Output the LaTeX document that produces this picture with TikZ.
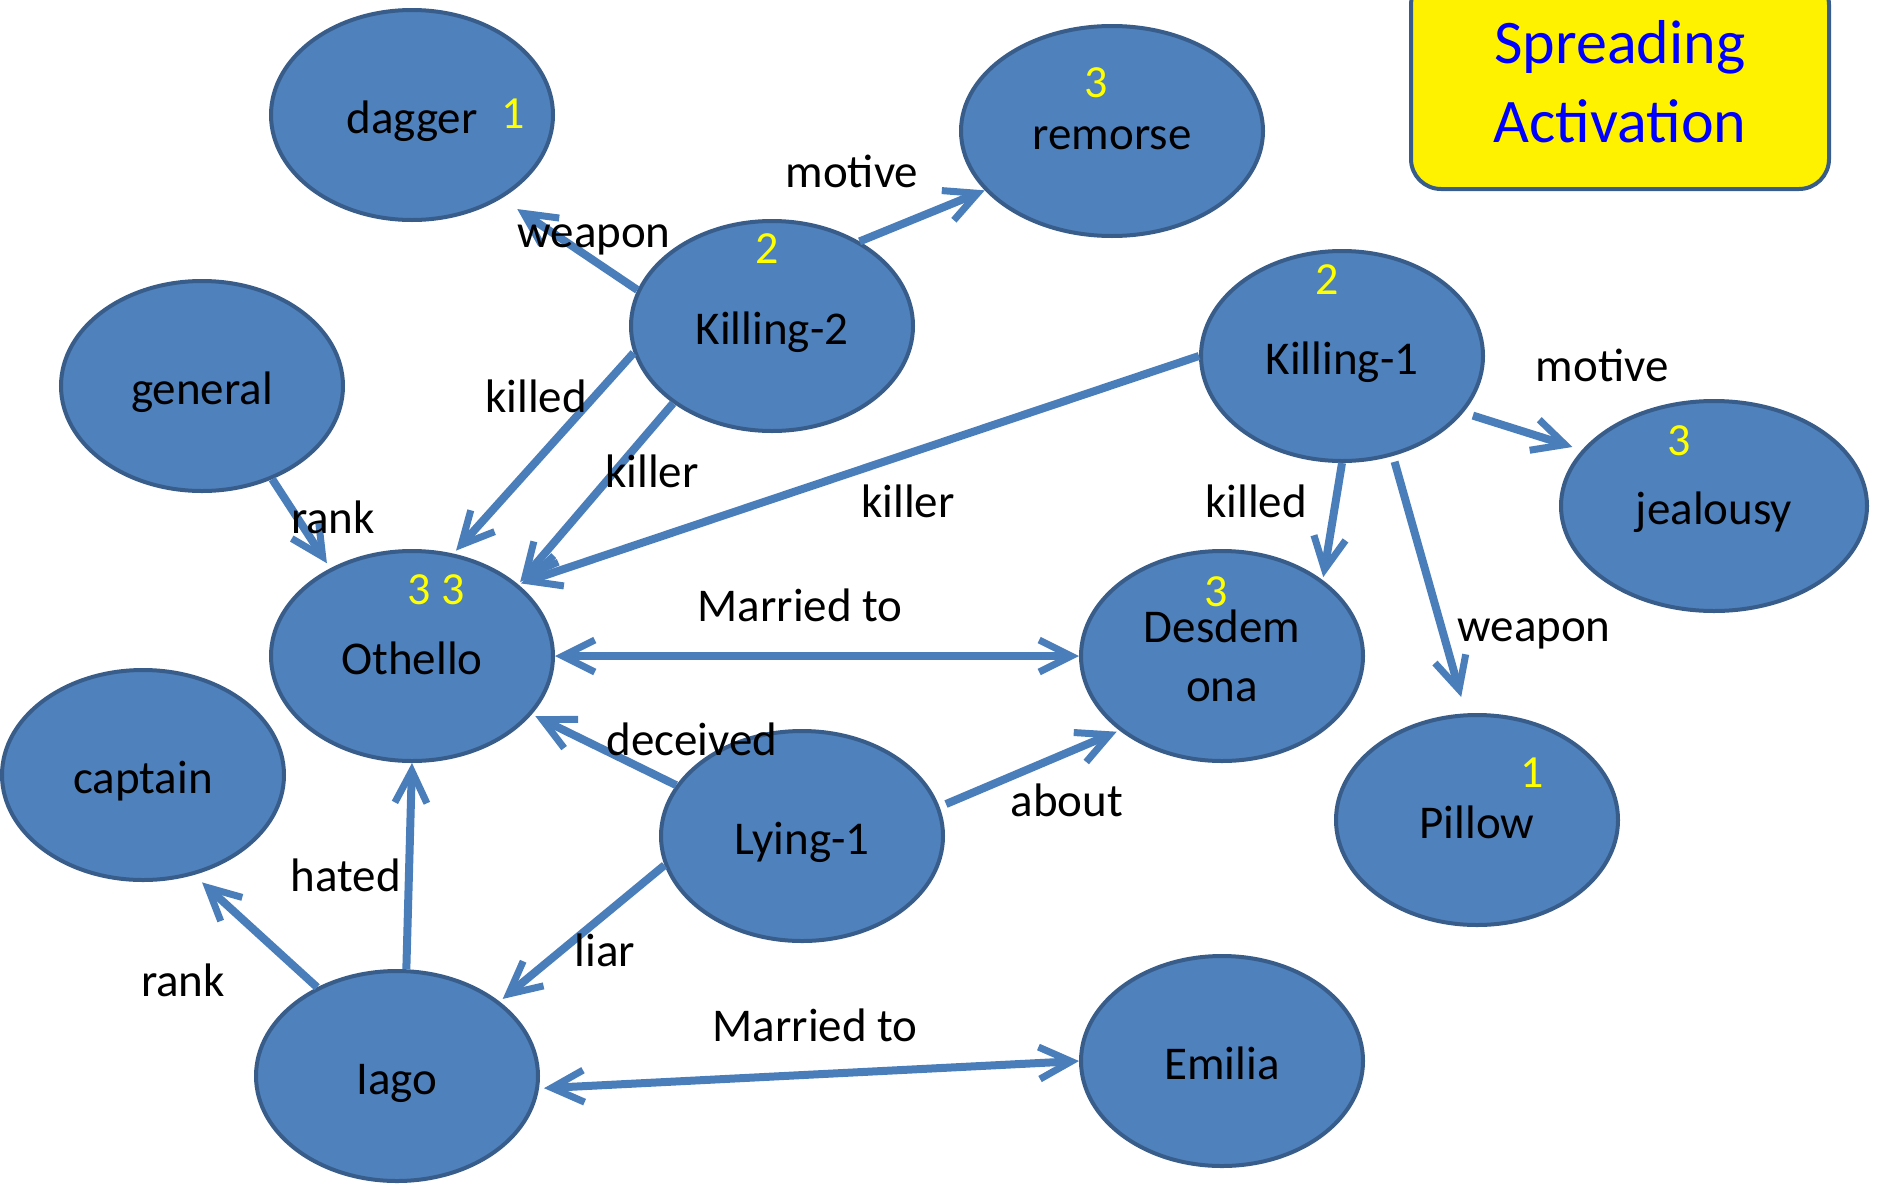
\documentclass[tikz,border=0pt]{standalone}
\usepackage{fontspec}
\setmainfont{Carlito}
\usetikzlibrary{arrows.meta,shapes.geometric}
\definecolor{nodefill}{HTML}{4F81BD}
\definecolor{nodeline}{HTML}{385D8A}
\definecolor{arrowc}{HTML}{4A7EBB}
\definecolor{numc}{HTML}{FFFF00}
\definecolor{titlec}{HTML}{0000FF}
\tikzset{
  concept/.style={ellipse, draw=nodeline, fill=nodefill, line width=4pt,
    minimum width=282pt, minimum height=210pt, inner sep=0pt,
    font=\fontsize{47}{59}\selectfont},
  oneline/.style={text height=41pt, text depth=4pt},
  num/.style={font=\fontsize{46}{55}\selectfont, text=numc, inner sep=0pt},
  lbl/.style={font=\fontsize{47}{56}\selectfont, anchor=base, inner sep=0pt},
  tip/.style={},
  link/.style={draw=arrowc, line width=8pt,
    -{Straight Barb[length=32pt,width=32pt,line width=7pt]}},
  link2/.style={draw=arrowc, line width=8pt,
    {Straight Barb[length=32pt,width=32pt,line width=7pt]}-{Straight Barb[length=32pt,width=32pt,line width=7pt]}},
  titlebox/.style={draw=nodeline, fill=yellow, line width=4pt, rounded corners=30pt,
    minimum width=418pt, minimum height=214pt, inner sep=0pt, align=center,
    text=titlec, font=\fontsize{62}{78.6}\selectfont}
}
\begin{document}
\begin{tikzpicture}[x=1pt,y=-1pt]
\useasboundingbox (0,0) rectangle (1878,1183);

% title
\node[titlebox] (title) at (1620,82) {Spreading\\Activation};

% concept nodes
\node[concept, oneline] (dagger) at (412,115) {dagger};
\node[concept, oneline, minimum width=302pt] (remorse) at (1112,131) {remorse};
\node[concept, oneline] (kb) at (772,326) {Killing-2};
\node[concept, oneline] (general) at (202,386) {general};
\node[concept, oneline] (ka) at (1342,356) {Killing-1};
\node[concept, oneline, minimum width=306pt] (jeal) at (1714,506) {jealousy};
\node[concept, oneline] (oth) at (412,656) {Othello};
\node[concept, align=center] (des) at (1222,656) {\raisebox{-3pt}{Desdem}\\\raisebox{-3pt}{ona}};
\node[concept, oneline] (capt) at (143,775) {captain};
\node[concept, oneline] (lying) at (802,836) {Lying-1};
\node[concept, oneline] (pillow) at (1477,820) {Pillow};
\node[concept, oneline] (iago) at (397,1076) {Iago};
\node[concept, oneline] (emilia) at (1222,1061) {Emilia};

% activation numbers
\node[num] (n1) at (513,114) {1};
\node[num] (n2) at (1096,83) {3};
\node[num] (n3) at (767,249) {2};
\node[num] (n4) at (1327,280) {2};
\node[num] (n5) at (1679,441) {3};
\node[num] (n6) at (436,590) {3 3};
\node[num] (n7) at (1216,592) {3};
\node[num] (n8) at (1532,773) {1};

% connectors
\draw[link, shorten >=19pt] (kb.165) -- (dagger.-43);
\draw[link] (kb.44) -- (remorse.205);
\draw[link, shorten >=4pt] (kb.191) -- (oth.68);
\draw[link, shorten >=3pt] (kb.218) -- (oth.34);
\draw[link, shorten >=3pt] (ka.180) -- (oth.34);
\draw[link, shorten >=6pt] (general.-53) -- (oth.133);
\draw[link, shorten <=10pt, shorten >=10pt] (ka.-25) -- (jeal.157);
\draw[link, shorten >=3pt] (ka.-90) -- (des.37);
\draw[link, shorten <=6pt, shorten >=17pt] (ka.-63) -- (pillow.96);
\draw[link2] (oth.east) -- (des.west);
\draw[link, shorten >=4pt] (lying.158) -- (oth.-26);
\draw[link, shorten <=7pt, shorten >=3pt] (lying.12) -- (des.216);
\draw[link, shorten >=4pt] (lying.192) -- (iago.36);
\draw[link] (iago.85) -- (oth.south);
\draw[link, shorten >=11pt] (iago.132) -- (capt.-63);
\draw[link2, shorten >=5pt] (emilia.west) -- (iago.-5);

% connector labels
\node[lbl] (e1) at (852,187) {motive};
\node[lbl] (e2) at (594,247) {weapon};
\node[lbl] (e3) at (536,412) {killed};
\node[lbl] (e4) at (652,487) {killer};
\node[lbl] (e5) at (908,517) {killer};
\node[lbl] (e6) at (333,533) {rank};
\node[lbl] (e7) at (1602,381) {motive};
\node[lbl] (e8) at (1256,517) {killed};
\node[lbl] (e9) at (800,621) {Married to};
\node[lbl] (e10) at (1534,641) {weapon};
\node[lbl] (e11) at (692,755) {deceived};
\node[lbl] (e12) at (1067,816) {about};
\node[lbl] (e13) at (346,891) {hated};
\node[lbl] (e14) at (605,966) {liar};
\node[lbl] (e15) at (183,996) {rank};
\node[lbl] (e16) at (815,1041) {Married to};
\end{tikzpicture}
\end{document}
